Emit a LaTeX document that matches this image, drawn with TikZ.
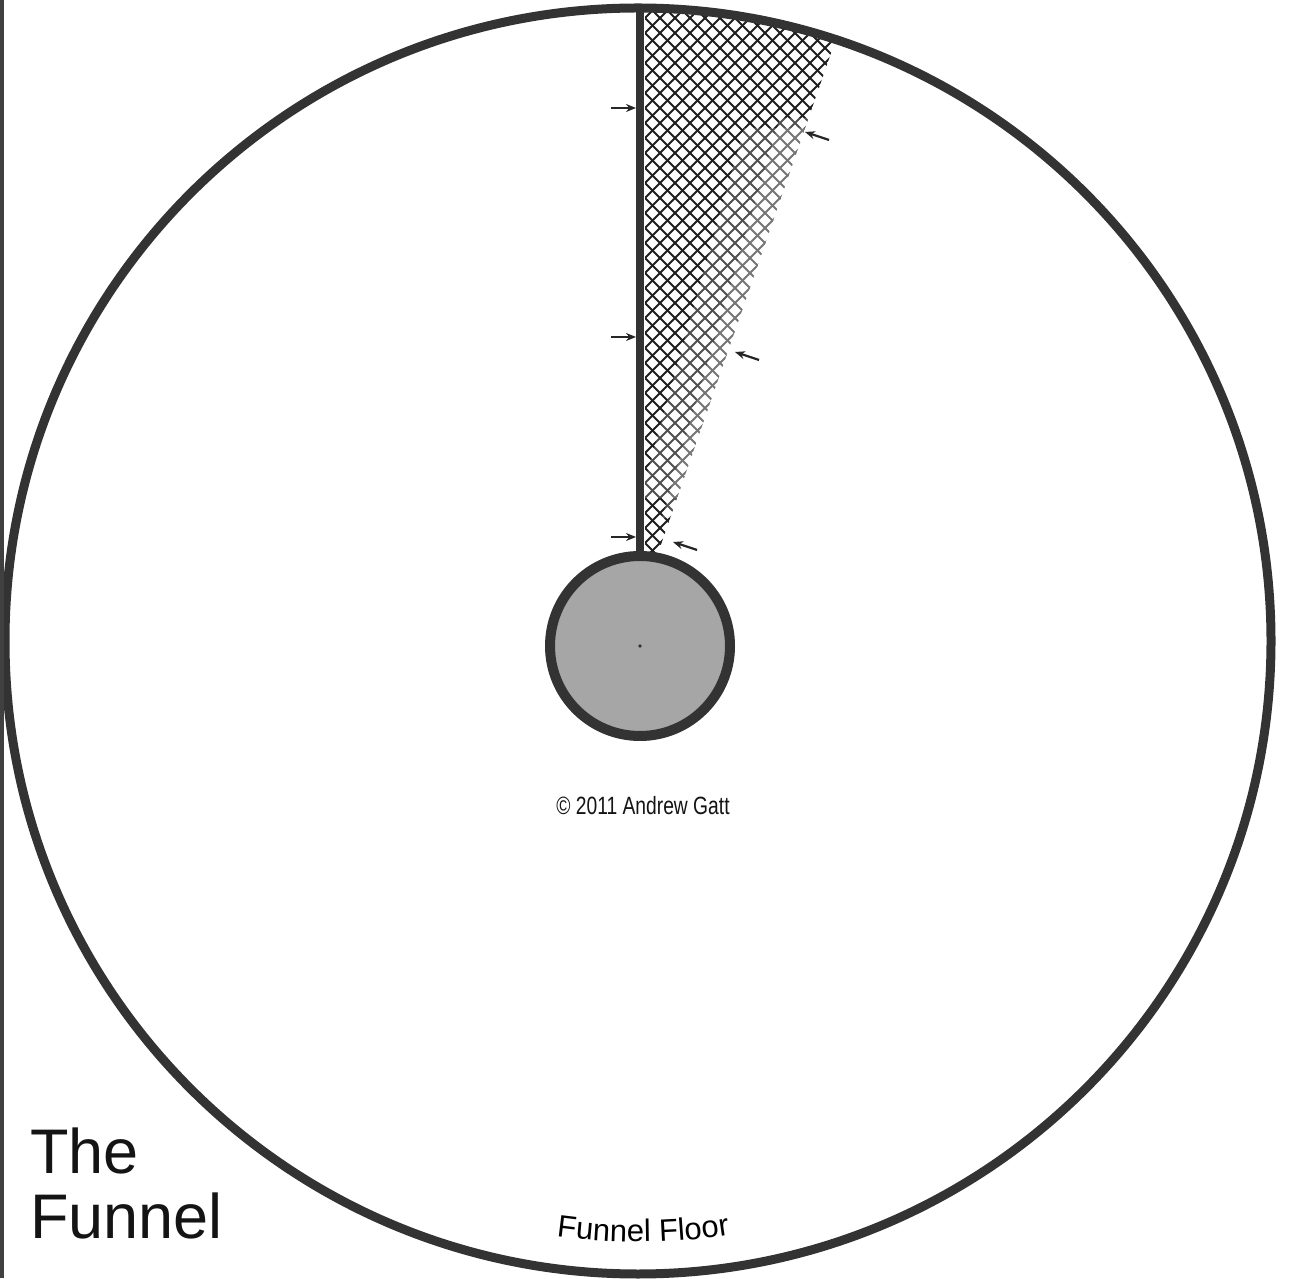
\documentclass[tikz,border=0pt]{standalone}
\usepackage{fontspec}
\setmainfont{Liberation Sans}
\usetikzlibrary{arrows.meta,decorations.text}
\begin{document}
\begin{tikzpicture}[x=1pt,y=1pt,
  outline/.style={draw=black!80, line width=9pt},
  hatchline/.style={draw=black!88, line width=1.8pt},
  marker/.style={draw=black!85, line width=2.2pt, -{Stealth[length=10pt,width=8pt]}},
  label/.style={inner sep=0pt, text=black!92},
]
\useasboundingbox (0,0) rectangle (1290,1278);
\fill[white] (0,0) rectangle (1290,1278);
\coordinate (C) at (638,637);
% cross-hatched wedge
\begin{scope}
  \clip (C) circle[radius=633];
  \clip (645,722) -- (645,1300) -- (857,1300) -- (657,722) -- cycle;
  \foreach \b in {-150,-135,...,645} \draw[hatchline] (600,600+\b) -- (900,900+\b);
  \foreach \b in {1350,1365,...,2160} \draw[hatchline] (600,\b-600) -- (900,\b-900);
  \fill[white, fill opacity=0.22] (744,1150) -- (640,780) -- (720,780) -- (840,1150) -- cycle;
  \fill[white, fill opacity=0.22] (780,1160) -- (662,760) -- (720,760) -- (840,1160) -- cycle;
\end{scope}
% outer circle
\draw[outline] (C) circle[radius=633];
% left border
\draw[black!75, line width=4pt] (2,0) -- (2,1278);
% vertical wall and hub
\coordinate (top) at (640,1270);
\node[circle, draw=black!80, line width=10pt, fill=black!35, minimum size=180pt, inner sep=0pt] (hub) at (640,632) {};
\draw[black!80, line width=8pt] (top) -- (hub.north);
\fill[black!80] (hub.center) circle[radius=1.8];
% arrows on the wall
\coordinate (la1) at (611,1170); \coordinate (lb1) at (636,1170);
\coordinate (la2) at (611,941);  \coordinate (lb2) at (636,941);
\coordinate (la3) at (611,741);  \coordinate (lb3) at (636,741);
\draw[marker] (la1) -- (lb1);
\draw[marker] (la2) -- (lb2);
\draw[marker] (la3) -- (lb3);
% arrows on the wedge edge
\coordinate (ra1) at (829,1138); \coordinate (rb1) at (805,1146);
\coordinate (ra2) at (759,918);  \coordinate (rb2) at (735,926);
\coordinate (ra3) at (697,728);  \coordinate (rb3) at (673,736);
\draw[marker] (ra1) -- (rb1);
\draw[marker] (ra2) -- (rb2);
\draw[marker] (ra3) -- (rb3);
% texts
\node[label, anchor=base, xscale=0.77, font=\fontsize{25}{28}\selectfont] (copy) at (643,463) {© 2011 Andrew Gatt};
\node[label, anchor=base west, font=\fontsize{63}{65}\selectfont] (the) at (30,105) {The};
\node[label, anchor=base west, font=\fontsize{63}{65}\selectfont] (funnel) at (30,40) {Funnel};
\path[decorate, decoration={text along path, text={|\fontsize{31}{31}\selectfont|Funnel Floor}, text align=center}]
  (C) ++(-109.5:601) arc[start angle=-109.5, end angle=-69.5, radius=601];
\end{tikzpicture}
\end{document}
